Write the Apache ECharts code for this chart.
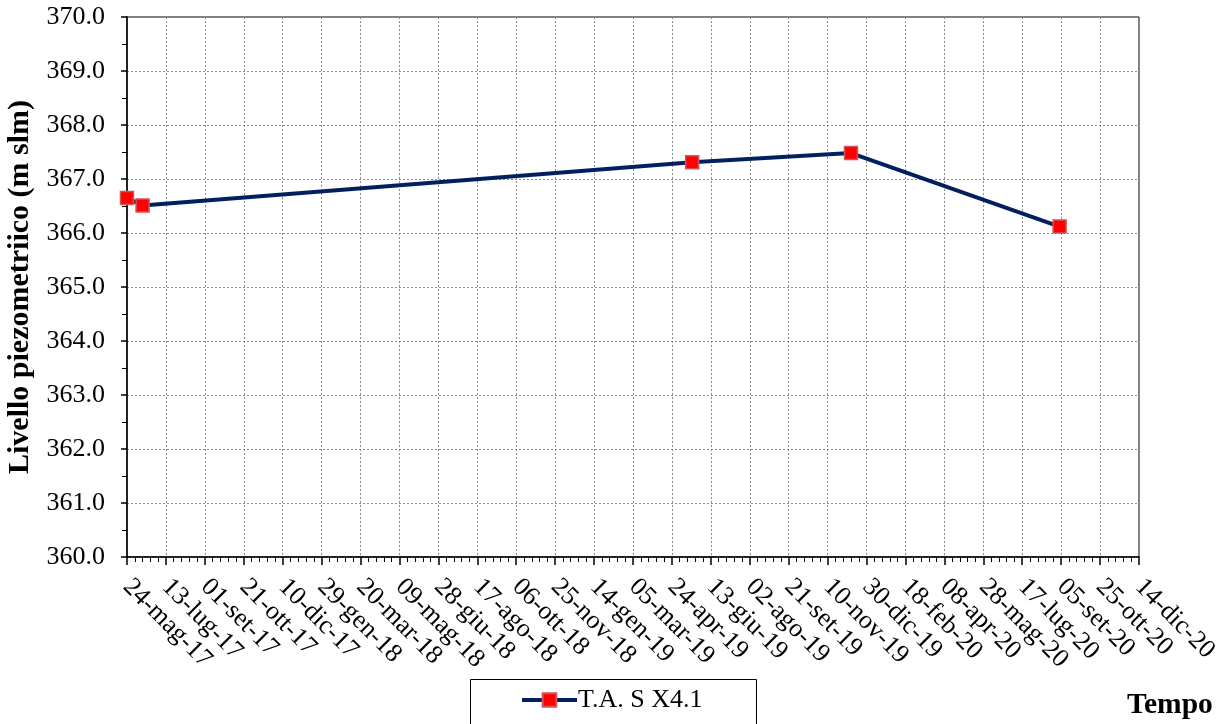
<!DOCTYPE html>
<html>
<head>
<meta charset="utf-8">
<style>
  html, body { margin: 0; padding: 0; background: #fff; }
  #chart { width: 1226px; height: 724px; }
</style>
<script src="https://cdn.jsdelivr.net/npm/echarts@6/dist/echarts.min.js"></script>
</head>
<body>
<div id="chart"></div>
<script>
// Measurement dates and piezometric levels (m slm)
const seriesName = 'T.A. S X4.1';
const dates = ['2017-05-24', '2017-06-13', '2019-05-20', '2019-12-10', '2020-09-03'];
const levels = [366.65, 366.51, 367.31, 367.48, 366.12];

// Time axis: ticks every 50 days starting from the first date
const startDate = '2017-05-24';
const tickStepDays = 50;
const tickLabels = [
  '24-mag-17', '13-lug-17', '01-set-17', '21-ott-17', '10-dic-17', '29-gen-18',
  '20-mar-18', '09-mag-18', '28-giu-18', '17-ago-18', '06-ott-18', '25-nov-18',
  '14-gen-19', '05-mar-19', '24-apr-19', '13-giu-19', '02-ago-19', '21-set-19',
  '10-nov-19', '30-dic-19', '18-feb-20', '08-apr-20', '28-mag-20', '17-lug-20',
  '05-set-20', '25-ott-20', '14-dic-20'
];
const yMin = 360, yMax = 370, yStep = 1;

const DAY = 86400000;
function dayOffset(s) {
  const [y, m, d] = s.split('-').map(Number);
  const [y0, m0, d0] = startDate.split('-').map(Number);
  return Math.round((Date.UTC(y, m - 1, d) - Date.UTC(y0, m0 - 1, d0)) / DAY);
}
const points = dates.map((d, i) => [dayOffset(d), levels[i]]);

const FONT = "'Liberation Serif', 'Times New Roman', serif";
const LINE_COLOR = '#03205e';
const grid = { left: 127, right: 87, top: 17, bottom: 167 };
const gridLine = { show: true, lineStyle: { color: '#8c8c8c', type: [2, 2], width: 1 } };

const chart = echarts.init(document.getElementById('chart'));
chart.setOption({
  animation: false,
  backgroundColor: '#fff',
  textStyle: { fontFamily: FONT },
  grid: Object.assign({
    show: true, borderColor: '#000', borderWidth: 1, backgroundColor: 'transparent',
    containLabel: false, outerBoundsMode: 'none'
  }, grid),
  xAxis: {
    type: 'value',
    min: 0,
    max: tickStepDays * (tickLabels.length - 1),
    interval: tickStepDays,
    axisLine: { show: true, onZero: false, lineStyle: { color: '#000', width: 1.5 } },
    axisTick: { show: true, length: 8, lineStyle: { color: '#000', width: 1.5 } },
    minorTick: { show: true, splitNumber: 5, length: 5, lineStyle: { color: '#000', width: 1 } },
    splitLine: gridLine,
    axisLabel: {
      rotate: -45,
      margin: 26,
      fontFamily: FONT,
      fontSize: 26,
      color: '#000',
      formatter: v => tickLabels[Math.round(v / tickStepDays)] || ''
    }
  },
  yAxis: {
    type: 'value',
    min: yMin,
    max: yMax,
    interval: yStep,
    name: 'Livello piezometriico (m slm)',
    nameLocation: 'middle',
    nameGap: 83,
    nameTextStyle: { fontFamily: FONT, fontSize: 30, fontWeight: 'bold', color: '#000' },
    axisLine: { show: true, lineStyle: { color: '#222', width: 2 } },
    axisTick: { show: true, length: 6, lineStyle: { color: '#000', width: 1.5 } },
    minorTick: { show: true, splitNumber: 2, length: 5, lineStyle: { color: '#000', width: 1 } },
    splitLine: gridLine,
    axisLabel: {
      margin: 22,
      fontFamily: FONT,
      fontSize: 26,
      color: '#000',
      formatter: v => v.toFixed(1)
    }
  },
  legend: {
    left: 515,
    top: 682,
    itemWidth: 55,
    itemHeight: 17,
    itemGap: 10,
    lineStyle: { width: 4 },
    textStyle: { fontFamily: FONT, fontSize: 26, color: '#000', padding: [0, 0, 0, -4] },
    data: [seriesName]
  },
  graphic: [
    {
      type: 'rect',
      left: 468, top: 677,
      shape: { width: 286, height: 60 },
      style: { fill: 'none', stroke: '#000', lineWidth: 1 },
      z: 0
    },
    {
      type: 'text',
      left: 1127, top: 690,
      style: { text: 'Tempo', fontFamily: FONT, fontSize: 29.5, fontWeight: 'bold', fill: '#000' }
    }
  ],
  series: [{
    name: seriesName,
    type: 'line',
    data: points,
    symbol: 'rect',
    symbolSize: 13,
    lineStyle: { color: LINE_COLOR, width: 4 },
    itemStyle: { color: '#ff0000', borderColor: '#d05656', borderWidth: 1.5 },
    z: 3
  }]
});
</script>
</body>
</html>
